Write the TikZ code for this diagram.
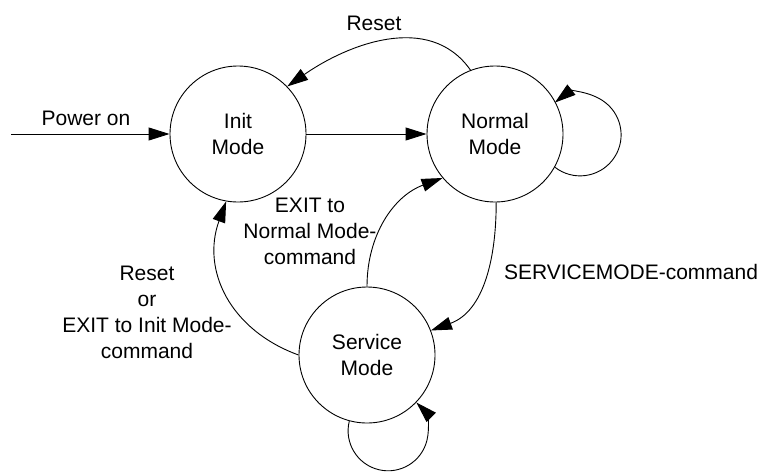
\documentclass[tikz,border=0pt]{standalone}
\usepackage{fontspec}
\setmainfont{Liberation Sans}
\usetikzlibrary{arrows.meta}

\begin{document}
\begin{tikzpicture}[x=1pt, y=1pt, line width=0.9pt, >={Triangle[length=21pt,width=13pt]},
                    font=\fontsize{21}{26}\selectfont,
                    state/.style={draw, circle, minimum size=136pt, inner sep=0pt, align=center},
                    lbl/.style={align=center, inner sep=0pt}]
                        \useasboundingbox (0,0) rectangle (762,-474);
                        \node[state] (I) at (238,-134) {Init\\Mode};
                        \node[state] (N) at (495,-134) {Normal\\Mode};
                        \node[state] (S) at (367,-355) {Service\\Mode};
                        \coordinate (P) at (11,-134);
                        \draw[->] (P) -- (I);
                        \draw[->] (I) -- (N);
                        \draw[->] (N.111) to[out=125, in=35] (I.44);
                        \draw[->] (N.-29) arc[start angle=-128, end angle=128, radius=41];
                        \draw[->] (N.-89) to[out=-90, in=20] (S.21);
                        \draw[->] (S.90) to[out=90, in=200] (N.220);
                        \draw[->] (S.180) to[out=160, in=250, looseness=1.1] (I.260);
                        \draw[->] (S.-105) arc[start angle=166, end angle=405, radius=40];
                        \node[lbl] (lpower) at (86,-118) {Power on};
                        \node[lbl] (lreset) at (374,-23) {Reset};
                        \node[lbl] (lexitn) at (310,-231) {EXIT to\\Normal Mode-\\command};
                        \node[lbl] (lexiti) at (147,-312) {Reset\\or\\EXIT to Init Mode-\\command};
                        \node[lbl] (lservice) at (631,-272) {SERVICEMODE-command};
                    \end{tikzpicture}
\end{document}
